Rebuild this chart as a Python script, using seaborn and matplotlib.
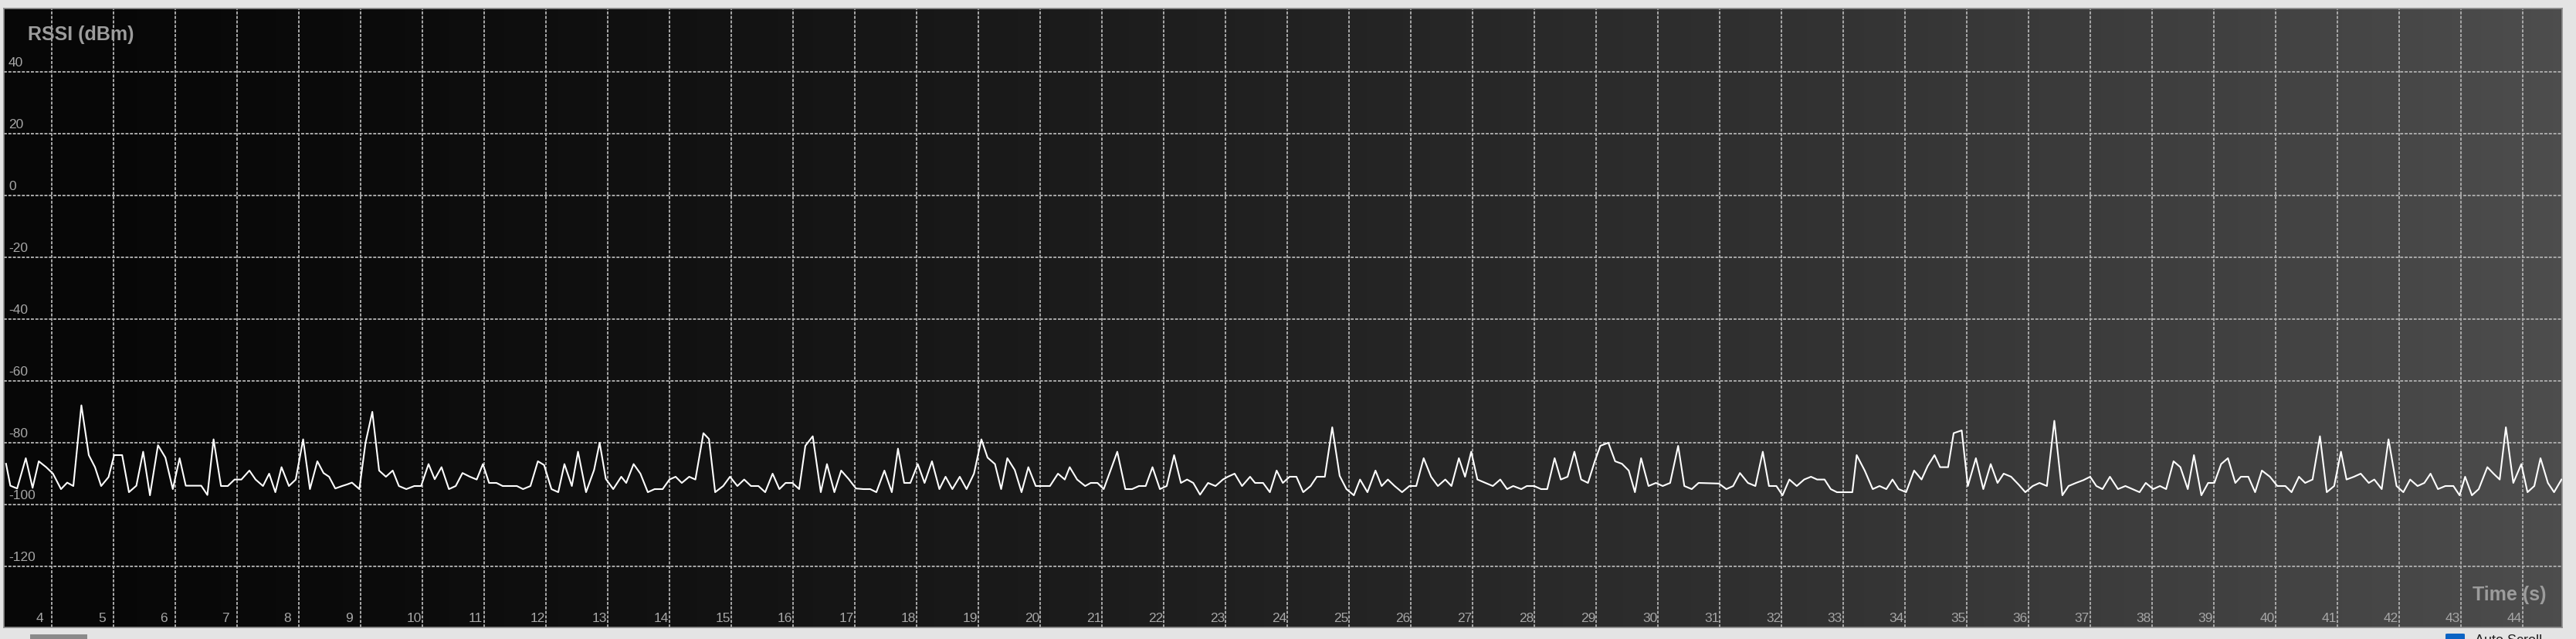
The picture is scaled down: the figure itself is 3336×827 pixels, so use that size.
import numpy as np
import seaborn as sns
import matplotlib.pyplot as plt
from matplotlib.colors import LinearSegmentedColormap
from matplotlib.patches import Rectangle, FancyBboxPatch
from matplotlib.transforms import offset_copy, blended_transform_factory

# RSSI samples (time in s, level in dBm)
time_s = [
    3.26, 3.33, 3.44, 3.58, 3.69, 3.79, 3.91, 4.02, 4.15, 4.25, 4.35, 4.48, 4.60, 4.70, 4.80, 4.92,
    5.01, 5.14, 5.25, 5.37, 5.48, 5.59, 5.72, 5.84, 5.96, 6.07, 6.17, 6.30, 6.42, 6.52, 6.62, 6.74,
    6.85, 6.96, 7.07, 7.20, 7.30, 7.42, 7.52, 7.62, 7.72, 7.84, 7.95, 8.07, 8.18, 8.30, 8.40, 8.49,
    8.59, 8.70, 8.78, 8.86, 8.98, 9.08, 9.19, 9.30, 9.41, 9.52, 9.62, 9.74, 9.87, 9.98, 10.10,
    10.20, 10.31, 10.43, 10.54, 10.65, 10.77, 10.88, 10.98, 11.08, 11.20, 11.30, 11.42, 11.53, 11.63,
    11.75, 11.87, 11.97, 12.09, 12.20, 12.30, 12.42, 12.52, 12.65, 12.78, 12.87, 12.97, 13.09, 13.22,
    13.30, 13.42, 13.53, 13.65, 13.76, 13.89, 14.00, 14.10, 14.20, 14.32, 14.42, 14.55, 14.64, 14.74,
    14.87, 14.98, 15.10, 15.21, 15.32, 15.44, 15.55, 15.67, 15.78, 15.88, 15.99, 16.10, 16.20, 16.32,
    16.45, 16.55, 16.67, 16.78, 16.90, 17.02,
    17.14, 17.25, 17.35, 17.48, 17.60, 17.70, 17.80, 17.90, 18.02, 18.13, 18.25, 18.37, 18.47, 18.58,
    18.70, 18.81, 18.93, 19.05, 19.15, 19.27, 19.37, 19.47, 19.59, 19.70, 19.81, 19.93, 20.04, 20.16,
    20.29, 20.40, 20.48, 20.60, 20.73, 20.82, 20.93, 21.03, 21.14, 21.25, 21.38, 21.49, 21.60, 21.71,
    21.82, 21.94, 22.05, 22.17, 22.28, 22.38, 22.48, 22.59, 22.72, 22.84, 22.96, 23.04, 23.15, 23.27,
    23.40, 23.48, 23.61, 23.72, 23.83, 23.93,
    24.04, 24.15, 24.26, 24.38, 24.48, 24.61, 24.73, 24.85, 24.96, 25.08, 25.18, 25.30, 25.43, 25.53,
    25.63, 25.74, 25.86, 25.98, 26.09, 26.21, 26.33, 26.44, 26.56, 26.66, 26.78, 26.88, 26.98, 27.08,
    27.21, 27.33, 27.45, 27.56, 27.66, 27.79, 27.88, 28.00, 28.11, 28.21, 28.33, 28.43, 28.54, 28.65,
    28.76, 28.87, 28.98, 29.07, 29.20, 29.31, 29.42, 29.53, 29.63, 29.73, 29.85, 29.97, 30.08, 30.20,
    30.33, 30.43, 30.55, 30.66,
    30.99, 31.11, 31.22, 31.33, 31.46, 31.58, 31.70, 31.80, 31.92, 32.02, 32.13, 32.25, 32.37, 32.48,
    32.58, 32.70, 32.80, 32.90, 33.02, 33.15, 33.22, 33.35, 33.48, 33.59, 33.70, 33.80, 33.90, 34.02,
    34.15, 34.27, 34.37, 34.48, 34.57, 34.70, 34.79, 34.92, 35.02, 35.15, 35.27, 35.39, 35.50, 35.60,
    35.72, 35.84, 35.95, 36.07, 36.18, 36.30, 36.42, 36.55, 36.65, 36.77, 36.89, 37.00, 37.10, 37.20,
    37.32, 37.45, 37.57,
    37.80, 37.90, 38.02, 38.13, 38.23, 38.35, 38.46, 38.58, 38.68, 38.80, 38.91, 39.01, 39.12, 39.23,
    39.35, 39.44, 39.56, 39.67, 39.78, 39.91, 40.03, 40.16, 40.26, 40.38, 40.48, 40.60, 40.72, 40.83,
    40.95, 41.06, 41.15, 41.27, 41.38, 41.51, 41.60, 41.72, 41.83, 41.96, 42.07, 42.18, 42.30, 42.41,
    42.51, 42.63, 42.75, 42.88, 42.98, 43.07, 43.18, 43.29, 43.43, 43.53, 43.63, 43.73, 43.85, 43.98,
    44.08, 44.19, 44.29, 44.41, 44.51, 44.63,
]
rssi_dbm = [
    -86.8, -93.9, -94.8, -85.0, -94.6, -86.0, -87.9, -90.0, -95.0, -92.9, -94.0, -67.9, -84.0, -87.9, -94.0, -91.1,
    -84.0, -84.0, -96.0, -93.9, -82.9, -97.0, -80.8, -84.8, -95.0, -85.0, -93.9, -93.9, -93.9, -96.9, -78.9, -94.0,
    -94.0, -91.9, -91.9, -89.0, -91.9, -94.0, -90.0, -96.0, -87.9, -94.0, -91.9, -78.9, -95.0, -86.0, -89.8, -91.0,
    -94.8, -94.0, -93.5, -92.9, -95.0, -80.0, -70.0, -89.0, -91.0, -89.0, -94.0, -95.0, -94.0, -94.0, -86.9,
    -91.8, -87.9, -95.0, -94.0, -89.8, -91.0, -91.9, -86.9, -93.0, -93.0, -94.0, -94.0, -94.0, -95.0,
    -94.0, -86.0, -87.2, -95.0, -96.0, -86.9, -94.0, -82.9, -96.0, -88.8, -80.0, -91.7, -95.0, -91.0,
    -93.0, -86.9, -90.0, -96.0, -95.0, -95.0, -91.9, -91.0, -93.0, -91.0, -91.9, -76.9, -78.8, -96.0,
    -94.0, -91.0, -94.0, -91.9, -94.0, -94.0, -96.0, -90.0, -95.0, -93.0, -93.0, -95.0, -81.0, -77.9,
    -96.0, -86.9, -96.0, -89.0, -91.7, -94.8,
    -95.0, -95.0, -96.0, -89.0, -96.0, -81.9, -93.0, -93.0, -86.9, -93.0, -86.0, -95.0, -91.0, -95.0,
    -91.0, -95.0, -90.0, -78.9, -84.8, -86.9, -95.0, -85.0, -88.8, -96.0, -87.9, -94.0, -94.0, -94.0,
    -90.0, -91.9, -87.9, -91.9, -94.0, -93.0, -93.0, -95.0, -89.0, -82.9, -95.0, -95.0, -94.0, -94.0,
    -87.9, -95.0, -94.0, -84.0, -93.0, -91.9, -93.0, -96.8, -93.0, -94.0, -91.9, -91.0, -90.0, -94.0,
    -91.0, -93.0, -93.0, -96.0, -89.0, -93.0,
    -91.0, -91.0, -96.0, -94.0, -91.0, -91.0, -75.0, -90.7, -95.0, -97.0, -91.9, -96.0, -89.0, -94.0,
    -91.9, -94.0, -96.0, -94.0, -94.0, -85.0, -91.0, -94.0, -91.9, -94.0, -85.0, -91.0, -82.9, -91.9,
    -93.0, -94.0, -91.9, -95.0, -94.0, -95.0, -94.0, -94.0, -95.0, -95.0, -85.0, -91.9, -91.0, -82.9,
    -91.9, -93.0, -86.0, -81.0, -80.0, -86.0, -86.8, -89.0, -96.0, -85.0, -94.0, -93.0, -94.0, -93.0,
    -81.0, -94.0, -95.0, -93.0,
    -93.2, -95.0, -94.0, -89.8, -93.0, -94.0, -82.9, -94.0, -94.0, -97.0, -91.9, -94.0, -91.9, -91.0,
    -91.9, -91.9, -95.0, -96.0, -96.0, -96.0, -84.0, -89.0, -95.0, -94.0, -95.0, -91.9, -95.0, -96.0,
    -89.0, -91.9, -87.5, -84.0, -87.9, -87.9, -76.9, -76.0, -94.0, -85.0, -95.0, -86.9, -93.0, -90.0,
    -91.0, -93.5, -96.0, -94.0, -93.0, -94.0, -72.9, -97.0, -94.0, -93.0, -92.1, -91.0, -94.0, -95.0,
    -91.0, -95.0, -94.0,
    -96.0, -93.0, -95.0, -94.0, -95.0, -86.0, -87.9, -95.0, -84.0, -97.0, -93.0, -93.0, -86.9, -85.0,
    -93.0, -91.0, -91.0, -96.0, -89.0, -91.0, -94.0, -94.0, -96.0, -91.0, -93.0, -91.9, -77.9, -96.0,
    -94.0, -82.9, -91.9, -91.0, -90.0, -93.0, -91.9, -95.0, -78.9, -94.0, -96.0, -91.9, -94.0, -93.0,
    -90.0, -95.0, -94.0, -94.0, -97.0, -91.0, -97.0, -95.0, -87.9, -90.0, -91.9, -75.0, -93.0, -86.9,
    -96.0, -94.0, -85.0, -93.0, -96.0, -91.9,
]

x_ticks = list(range(4, 45))
y_ticks = [40, 20, 0, -20, -40, -60, -80, -100, -120]
x_range = (3.225, 44.64)
y_range = (-139.75, 60.5)

plt.rcParams['font.family'] = ['Liberation Sans', 'DejaVu Sans']

fig = plt.figure(figsize=(33.36, 8.28), dpi=100, facecolor='#e4e4e4')
ax = fig.add_axes([5 / 3336, 15 / 828, 3313 / 3336, 801 / 828])

# dark horizontal gradient behind the plot
bg = LinearSegmentedColormap.from_list('bg', ['#070707', '#4d4d4d'])
grad = np.linspace(0, 1, 600) ** 1.4
ax.imshow(grad[np.newaxis, :], extent=[x_range[0], x_range[1], y_range[0], y_range[1]],
          aspect='auto', cmap=bg, zorder=0, interpolation='bicubic')

sns.lineplot(x=time_s, y=rssi_dbm, color='white', linewidth=1.5, estimator=None,
             sort=False, ax=ax, zorder=3)

ax.set_xlim(*x_range)
ax.set_ylim(*y_range)
ax.set_xticks(x_ticks)
ax.set_yticks(y_ticks)
ax.grid(True, color='#a9a9a9', linestyle=(0, (2, 1)), linewidth=1.4, zorder=1)
ax.tick_params(length=0, labelbottom=False, labelleft=False)
ax.set_xlabel('')
ax.set_ylabel('')
for s in ax.spines.values():
    s.set_color('#8c8c8c')
    s.set_linewidth(1.2)

lab_col = '#a6a6a6'
ytr = blended_transform_factory(ax.transAxes, ax.transData)
for v in y_ticks:
    ax.text(0, v, str(v), transform=offset_copy(ytr, fig=fig, x=6, y=8, units='dots'),
            ha='left', va='baseline', fontsize=12.5, color=lab_col)

# time labels start 20 px left of their grid line
xtr = blended_transform_factory(ax.transData, ax.transAxes)
for t in x_ticks:
    ax.text(t, 0, str(t), transform=offset_copy(xtr, fig=fig, x=-20, y=8, units='dots'),
            ha='left', va='baseline', fontsize=12.5, color=lab_col)

ax.text(0, 1, 'RSSI (dBm)', transform=offset_copy(ax.transAxes, fig=fig, x=31, y=-40, units='dots'),
        ha='left', va='baseline', fontsize=18, fontweight='bold', color='#9c9c9c')
ax.text(1, 0, 'Time (s)', transform=offset_copy(ax.transAxes, fig=fig, x=-20, y=36, units='dots'),
        ha='right', va='baseline', fontsize=18, fontweight='bold', color='#9c9c9c')

# window bits peeking in at the bottom edge
fig.patches.append(Rectangle((39 / 3336, 0), 74 / 3336, 6 / 828, transform=fig.transFigure,
                             facecolor='#8a8a8a', edgecolor='none'))
fig.patches.append(FancyBboxPatch((3167 / 3336, -6 / 828), 25 / 3336, 13 / 828,
                                  boxstyle='round,pad=0,rounding_size=0.001', transform=fig.transFigure,
                                  facecolor='#0b63c4', edgecolor='none'))
fig.text(3205 / 3336, 7 / 828, 'Auto Scroll', ha='left', va='top', fontsize=13, color='#202020')

fig.savefig('out.png', dpi=100, facecolor=fig.get_facecolor())
